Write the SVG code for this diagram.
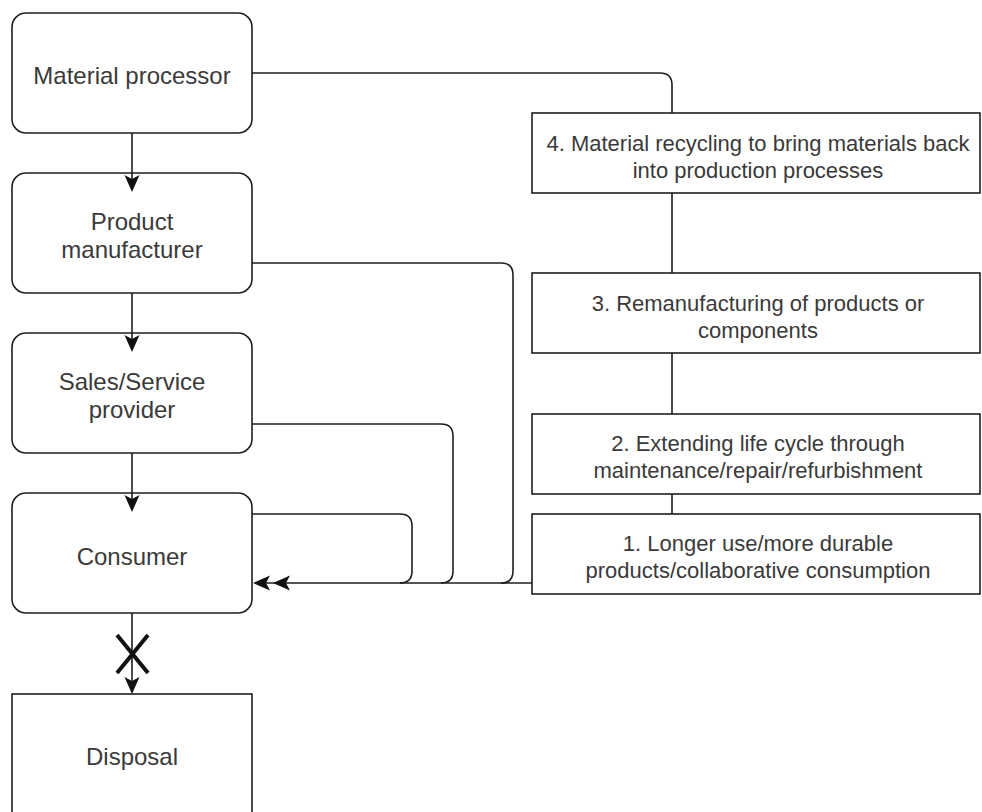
<svg xmlns="http://www.w3.org/2000/svg" width="982" height="812" viewBox="0 0 982 812">
<style>
.box{fill:#fff;stroke:#1e1e1e;stroke-width:1.6}
.ln{fill:none;stroke:#1e1e1e;stroke-width:1.6}
.t{font-family:"Liberation Sans",Arial,sans-serif;fill:#3a3a3a;text-anchor:middle}
.l{font-size:24px}
.r{font-size:22px}
.ah{fill:#111;stroke:none}
</style>
<defs>
<path id="ahd" class="ah" d="M0 0 L-7.5 -17 L0 -13 L7.5 -17 Z"/>
<path id="ahl" class="ah" d="M0 0 L17 -7.5 L13 0 L17 7.5 Z"/>
</defs>
<rect width="982" height="812" fill="#fff"/>
<g id="material-processor">
<rect class="box" x="12" y="13" width="240" height="120" rx="14"/>
<text class="t l" x="132" y="84">Material processor</text>
</g>
<g id="product-manufacturer">
<rect class="box" x="12" y="173" width="240" height="120" rx="14"/>
<text class="t l" x="132" y="230">Product</text>
<text class="t l" x="132" y="258">manufacturer</text>
</g>
<g id="sales-service-provider">
<rect class="box" x="12" y="333" width="240" height="120" rx="14"/>
<text class="t l" x="132" y="390">Sales/Service</text>
<text class="t l" x="132" y="418">provider</text>
</g>
<g id="consumer">
<rect class="box" x="12" y="493" width="240" height="120" rx="14"/>
<text class="t l" x="132" y="565">Consumer</text>
</g>
<g id="disposal">
<rect class="box" x="12" y="694" width="240" height="122"/>
<text class="t l" x="132" y="765">Disposal</text>
</g>
<g id="step4">
<rect class="box" x="532" y="113" width="448" height="80"/>
<text class="t r" x="758" y="151">4. Material recycling to bring materials back</text>
<text class="t r" x="758" y="178">into production processes</text>
</g>
<g id="step3">
<rect class="box" x="532" y="273" width="448" height="80"/>
<text class="t r" x="758" y="311">3. Remanufacturing of products or</text>
<text class="t r" x="758" y="338">components</text>
</g>
<g id="step2">
<rect class="box" x="532" y="414" width="448" height="80"/>
<text class="t r" x="758" y="451">2. Extending life cycle through</text>
<text class="t r" x="758" y="478">maintenance/repair/refurbishment</text>
</g>
<g id="step1">
<rect class="box" x="532" y="514" width="448" height="80"/>
<text class="t r" x="758" y="551">1. Longer use/more durable</text>
<text class="t r" x="758" y="578">products/collaborative consumption</text>
</g>
<g id="connectors">
<path class="ln" d="M132 133 V190"/>
<use href="#ahd" x="132" y="192"/>
<path class="ln" d="M132 293 V350"/>
<use href="#ahd" x="132" y="352"/>
<path class="ln" d="M132 453 V510"/>
<use href="#ahd" x="132" y="512"/>
<path class="ln" d="M132 613 V692"/>
<use href="#ahd" x="132" y="694"/>
<path d="M117 635 L148 673 M148 635 L117 673" fill="none" stroke="#111" stroke-width="4"/>
<path class="ln" d="M252 73 H660 Q672 73 672 85 V113"/>
<path class="ln" d="M672 193 V273"/>
<path class="ln" d="M672 353 V414"/>
<path class="ln" d="M672 494 V514"/>
<path class="ln" d="M532 583 H256"/>
<path class="ln" d="M252 263 H501 Q513 263 513 275 V571 Q513 583 501 583"/>
<path class="ln" d="M252 424 H441 Q453 424 453 436 V571 Q453 583 441 583"/>
<path class="ln" d="M252 514 H400 Q412 514 412 526 V571 Q412 583 400 583"/>
<use href="#ahl" x="253" y="583"/>
<use href="#ahl" x="273" y="583"/>
</g>
</svg>
